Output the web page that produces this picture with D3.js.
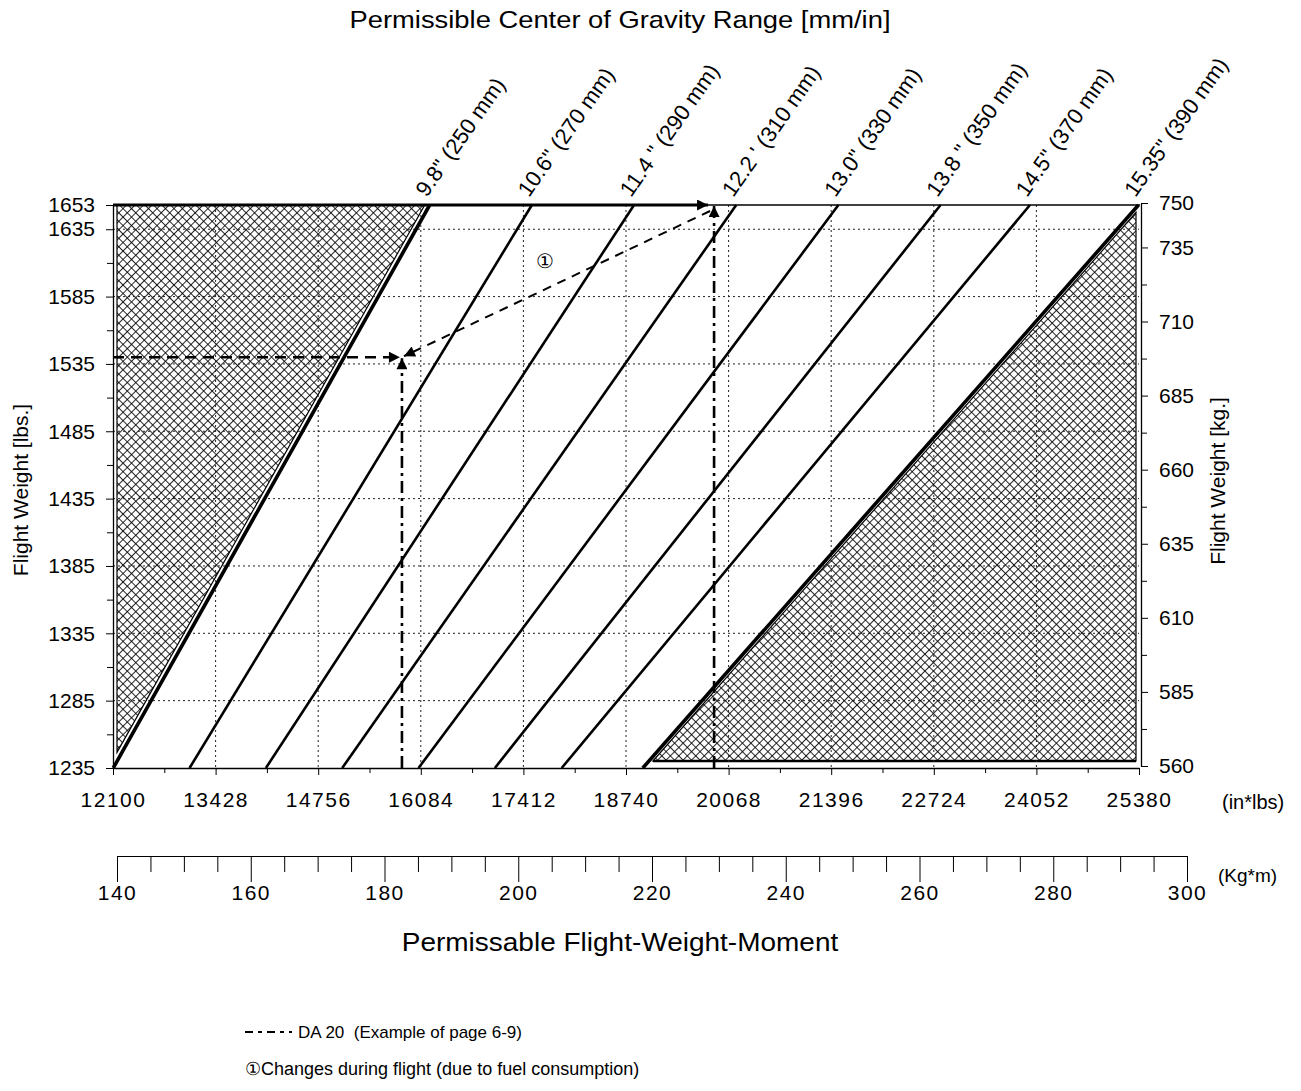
<!DOCTYPE html>
<html><head><meta charset="utf-8">
<script src="https://cdn.jsdelivr.net/npm/d3@7"></script>
<style>
body{margin:0;background:#fff;}
svg{display:block;}
text{font-family:"Liberation Sans",Arial,sans-serif;fill:#000;white-space:pre;}
</style></head>
<body>
<svg id="chart" width="1301" height="1091"></svg>
<script>
// ---------- data ----------
const cgArmsIn = [9.8, 10.6, 11.4, 12.2, 13.0, 13.8, 14.5, 15.35];
const cgLabels = ['9.8" (250 mm)', '10.6" (270 mm)', '11.4 " (290 mm)', "12.2 ' (310 mm)",
                  '13.0" (330 mm)', '13.8 " (350 mm)', '14.5" (370 mm)', '15.35" (390 mm)'];
const weightRangeLbs = [1235, 1653];
const momentTicks = [12100, 13428, 14756, 16084, 17412, 18740, 20068, 21396, 22724, 24052, 25380];
const momentMinor = [12764, 14092, 15420, 16748, 18076, 19404, 20732, 22060, 23388, 24716];
const lbsTicks = [1653, 1635, 1585, 1535, 1485, 1435, 1385, 1335, 1285, 1235];
const lbsMinor = [1610, 1560, 1510, 1460, 1410, 1360, 1310, 1260];
const kgTicks = [750, 735, 710, 685, 660, 635, 610, 585, 560];
const kgMinor = [722.5, 697.5, 672.5, 647.5, 622.5, 597.5, 572.5];
const kgmTicks = [140, 160, 180, 200, 220, 240, 260, 280, 300];
const kgmMinor = [145,150,155,165,170,175,185,190,195,205,210,215,225,230,235,245,250,255,265,270,275,285,290,295];
// DA 20 example (moment in*lbs, weight lbs)
const exampleTakeoff = {moment: 15840, weight: 1540};
const exampleRamp = {moment: 19880, weight: 1653};

// ---------- scales ----------
const svg = d3.select("#chart");
const x = d3.scaleLinear().domain([12100, 25380]).range([113, 1139]);
const yL = d3.scaleLinear().domain(weightRangeLbs).range([768, 205]);
const yK = d3.scaleLinear().domain([560, 750]).range([766, 203]);
const xKgm = d3.scaleLinear().domain([140, 300]).range([117, 1187]);

const X0 = x(12100), X1 = x(25380), YT = yL(1653), YB = yL(1235);

// ---------- defs ----------
const defs = svg.append("defs");
const PS = 6.0;
const pat = defs.append("pattern").attr("id","hatch").attr("patternUnits","userSpaceOnUse")
  .attr("width",PS).attr("height",PS).attr("patternTransform","rotate(45)");
pat.append("rect").attr("width",PS).attr("height",PS).attr("fill","#fff");
pat.append("line").attr("x1",0).attr("y1",0).attr("x2",PS).attr("y2",0).attr("stroke","#000").attr("stroke-width",1.7);
pat.append("line").attr("x1",0).attr("y1",0).attr("x2",0).attr("y2",PS).attr("stroke","#000").attr("stroke-width",1.7);
defs.append("marker").attr("id","arrow").attr("viewBox","0 0 10 10").attr("refX",10).attr("refY",5)
  .attr("markerUnits","userSpaceOnUse").attr("markerWidth",16).attr("markerHeight",11).attr("orient","auto")
  .append("path").attr("d","M0,0 L10,5 L0,10 z").attr("fill","#000");

// ---------- helpers ----------
function shiftedLine(arm, dx){
  const ya = yL(1653), yb = yL(1235);
  const xa = x(arm*1653)+dx, xb = x(arm*1235)+dx;
  return { xAt: yy => xa + (yy-ya)*(xb-xa)/(yb-ya), yAt: xx => ya + (xx-xa)*(yb-ya)/(xb-xa) };
}

// ---------- hatched (out of limits) regions ----------
{
  const fwd = cgArmsIn[0], aft = cgArmsIn[cgArmsIn.length-1];
  const s = shiftedLine(fwd, -5); const xl = X0 + 4;
  const ptsL = [[xl, YT], [s.xAt(YT), YT], [xl, s.yAt(xl)]];
  svg.append("polygon").attr("points", ptsL.map(p=>p.join(",")).join(" "))
    .attr("fill","url(#hatch)").attr("stroke","#000").attr("stroke-width",1.2);
  const r = shiftedLine(aft, 4); const xr = X1 - 3; const yb = YB - 7;
  const ptsR = [[r.xAt(yb), yb], [xr, yb], [xr, r.yAt(xr)]];
  svg.append("polygon").attr("points", ptsR.map(p=>p.join(",")).join(" "))
    .attr("fill","url(#hatch)").attr("stroke","#000").attr("stroke-width",1.2);
  svg.append("line").attr("x1",r.xAt(yb)).attr("x2",xr).attr("y1",yb).attr("y2",yb)
    .attr("stroke","#000").attr("stroke-width",2.5);
}

// ---------- grid ----------
const grid = svg.append("g").attr("stroke","#222").attr("stroke-width",1).attr("stroke-dasharray","2,3");
grid.selectAll("line.v").data(momentTicks.slice(1,-1)).join("line").attr("class","v")
  .attr("x1",d=>x(d)).attr("x2",d=>x(d)).attr("y1",YT).attr("y2",YB);
grid.selectAll("line.h").data(lbsTicks.slice(1,-1)).join("line").attr("class","h")
  .attr("x1",X0).attr("x2",X1).attr("y1",d=>yL(d)).attr("y2",d=>yL(d));

// ---------- frame top ----------
svg.append("line").attr("x1",X0).attr("x2",X1+1).attr("y1",YT).attr("y2",YT).attr("stroke","#000").attr("stroke-width",1.5);

// ---------- CG lines ----------
svg.append("g").selectAll("line").data(cgArmsIn).join("line")
  .attr("x1",d=>x(d*1235)).attr("y1",YB).attr("x2",d=>x(d*1653)).attr("y2",YT)
  .attr("stroke","#000").attr("stroke-width",(d,i)=> (i===0||i===cgArmsIn.length-1)?3.6:2.6);

svg.append("g").selectAll("text").data(cgArmsIn).join("text")
  .attr("transform",d=>`translate(${x(d*1653)-3},${YT-7}) rotate(-55)`)
  .attr("font-size",22).text((d,i)=>cgLabels[i]);

// ---------- axes ----------
function styleAxis(g, fs){
  g.selectAll("text").attr("font-size",fs).attr("fill","#000").attr("font-family","Liberation Sans, Arial, sans-serif");
  g.selectAll("line").attr("stroke","#000");
  g.select(".domain").attr("stroke","#000").attr("stroke-width",1.3);
}
const gl = svg.append("g").attr("transform",`translate(${X0},0)`)
  .call(d3.axisLeft(yL).tickValues(lbsTicks).tickSize(7).tickSizeOuter(0).tickPadding(11).tickFormat(d3.format("d")));
styleAxis(gl, 21);
svg.append("g").attr("transform",`translate(${X0},0)`)
  .call(d3.axisLeft(yL).tickValues(lbsMinor).tickSize(6).tickFormat("")).call(g=>{g.select(".domain").remove(); g.selectAll("line").attr("stroke","#000");});

const gr = svg.append("g").attr("transform",`translate(${X1+2},0)`)
  .call(d3.axisRight(yK).tickValues(kgTicks).tickSize(7).tickSizeOuter(0).tickPadding(11).tickFormat(d3.format("d")));
styleAxis(gr, 21);
svg.append("g").attr("transform",`translate(${X1+2},0)`)
  .call(d3.axisRight(yK).tickValues(kgMinor).tickSize(6).tickFormat("")).call(g=>{g.select(".domain").remove(); g.selectAll("line").attr("stroke","#000");});

const gb = svg.append("g").attr("transform",`translate(0,${YB})`)
  .call(d3.axisBottom(x).tickValues(momentTicks).tickSize(7).tickSizeOuter(0).tickPadding(17).tickFormat(d3.format("d")));
styleAxis(gb, 21);
gb.selectAll("text").attr("letter-spacing",1.5);
svg.append("g").attr("transform",`translate(0,${YB})`)
  .call(d3.axisBottom(x).tickValues(momentMinor).tickSize(5).tickFormat("")).call(g=>{g.select(".domain").remove(); g.selectAll("line").attr("stroke","#000");});

// kg*m ruler
const RY = 856;
const gk = svg.append("g").attr("transform",`translate(0,${RY})`)
  .call(d3.axisBottom(xKgm).tickValues(kgmTicks).tickSize(26).tickSizeOuter(0).tickPadding(3).tickFormat(d3.format("d")));
gk.selectAll("text").attr("font-size",21).attr("font-family","DejaVu Sans, sans-serif").attr("font-weight",200)
  .attr("letter-spacing",1.5).attr("fill","#222");
gk.selectAll("line").attr("stroke","#000");
gk.select(".domain").attr("stroke","#000").attr("stroke-width",1.2);
svg.append("g").attr("transform",`translate(0,${RY})`)
  .call(d3.axisBottom(xKgm).tickValues(kgmMinor).tickSize(16).tickFormat("")).call(g=>{g.select(".domain").remove(); g.selectAll("line").attr("stroke","#000");});

// ---------- DA 20 example ----------
const ex = svg.append("g").attr("fill","none").attr("stroke","#000");
const P1 = [x(exampleTakeoff.moment), yL(exampleTakeoff.weight)];
const P2 = [x(exampleRamp.moment), yL(exampleRamp.weight)];
ex.append("line").attr("x1",X0).attr("y1",P1[1]).attr("x2",P1[0]-2).attr("y2",P1[1])
  .attr("stroke-width",2.5).attr("stroke-dasharray","11,7").attr("marker-end","url(#arrow)");
ex.append("line").attr("x1",P1[0]).attr("y1",YB).attr("x2",P1[0]).attr("y2",P1[1]+1)
  .attr("stroke-width",2.6).attr("stroke-dasharray","12,5,3,5").attr("marker-end","url(#arrow)");
ex.append("line").attr("x1",P2[0]).attr("y1",YB).attr("x2",P2[0]).attr("y2",P2[1]+1)
  .attr("stroke-width",2.6).attr("stroke-dasharray","12,5,3,5").attr("marker-end","url(#arrow)");
ex.append("line").attr("x1",X0).attr("y1",P2[1]).attr("x2",P2[0]-6).attr("y2",P2[1])
  .attr("stroke-width",2.8).attr("marker-end","url(#arrow)");
ex.append("line").attr("x1",P2[0]-4).attr("y1",P2[1]+6).attr("x2",P1[0]+2).attr("y2",P1[1]-1)
  .attr("stroke-width",2).attr("stroke-dasharray","9,7").attr("marker-end","url(#arrow)");
svg.append("text").attr("x",(P1[0]+P2[0])/2 - 13).attr("y",(P1[1]+P2[1])/2 - 13)
  .attr("font-size",20).attr("text-anchor","middle").text("①");

// ---------- titles ----------
svg.append("text").attr("transform","translate(620,28) scale(1.14,1)").attr("text-anchor","middle").attr("font-size",24)
  .text("Permissible Center of Gravity Range [mm/in]");
svg.append("text").attr("transform","translate(28,490) rotate(-90)").attr("text-anchor","middle").attr("font-size",21)
  .text("Flight Weight [lbs.]");
svg.append("text").attr("transform","translate(1225,481) rotate(-90)").attr("text-anchor","middle").attr("font-size",21)
  .text("Flight Weight [kg.]");
svg.append("text").attr("x",1222).attr("y",809).attr("font-size",20).text("(in*lbs)");
svg.append("text").attr("x",1218).attr("y",882).attr("font-size",19).text("(Kg*m)");
svg.append("text").attr("transform","translate(620,951) scale(1.12,1)").attr("text-anchor","middle").attr("font-size",25)
  .text("Permissable Flight-Weight-Moment");

// ---------- legend ----------
svg.append("line").attr("x1",245).attr("x2",292).attr("y1",1032).attr("y2",1032)
  .attr("stroke","#000").attr("stroke-width",2).attr("stroke-dasharray","8,5,4,5");
svg.append("text").attr("x",298).attr("y",1038).attr("font-size",17).text("DA 20  (Example of page 6-9)");
svg.append("text").attr("x",245).attr("y",1075).attr("font-size",18).text("①Changes during flight (due to fuel consumption)");
</script>
</body></html>
